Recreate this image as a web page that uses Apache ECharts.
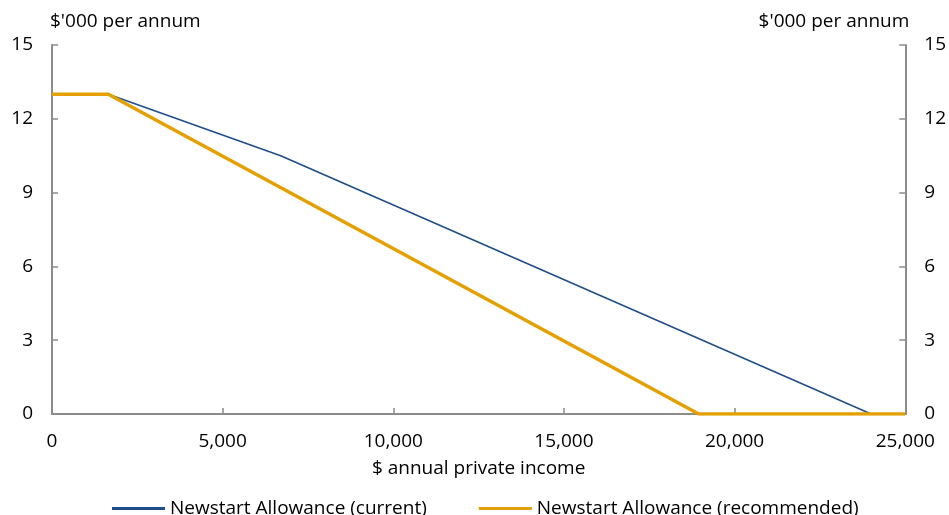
<!DOCTYPE html>
<html>
<head>
<meta charset="utf-8">
<script src="https://cdn.jsdelivr.net/npm/echarts@6/dist/echarts.min.js"></script>
<style>
  html, body { margin: 0; padding: 0; background: #fff; }
  #chart { width: 949px; height: 515px; }
</style>
</head>
<body>
<div id="chart"></div>
<script>
// Newstart Allowance payable ($'000 per annum) against annual private income ($)
const seriesNames = ['Newstart Allowance (current)', 'Newstart Allowance (recommended)'];
// breakpoints of the income test: [private income, allowance]
const currentAllowance = [[0, 13], [1650, 13], [6700, 10.5], [24000, 0], [25000, 0]];
const recommendedAllowance = [[0, 13], [1650, 13], [18950, 0], [25000, 0]];
const yTicks = [0, 3, 6, 9, 12, 15];
const xTicks = [0, 5000, 10000, 15000, 20000, 25000];

const font = 'Open Sans';
const fontSize = 19;
const axisGrey = '#8c8c8c';

const chart = echarts.init(document.getElementById('chart'), null, { renderer: 'canvas' });

const yAxisBase = {
  type: 'value',
  min: yTicks[0],
  max: yTicks[yTicks.length - 1],
  interval: 3,
  name: "$'000 per annum",
  nameLocation: 'end',
  nameGap: 14,
  axisLine: { show: true, lineStyle: { color: axisGrey, width: 2 } },
  axisTick: { show: true, inside: true, length: 6, lineStyle: { color: axisGrey, width: 1.5 } },
  splitLine: { show: false },
  axisLabel: { color: '#000', fontFamily: font, fontSize: fontSize, margin: 19 }
};

chart.setOption({
  animation: false,
  grid: { left: 52, right: 42, top: 45, bottom: 101 },
  xAxis: {
    type: 'value',
    min: xTicks[0],
    max: xTicks[xTicks.length - 1],
    interval: 5000,
    name: '$ annual private income',
    nameLocation: 'middle',
    nameGap: 45,
    nameTextStyle: { color: '#000', fontFamily: font, fontSize: fontSize },
    axisLine: { show: true, lineStyle: { color: axisGrey, width: 2 } },
    axisTick: { show: true, inside: true, length: 6, lineStyle: { color: axisGrey, width: 1.5 } },
    splitLine: { show: false },
    axisLabel: {
      color: '#000', fontFamily: font, fontSize: fontSize, margin: 18,
      formatter: v => v.toLocaleString('en-US')
    }
  },
  yAxis: [
    Object.assign({}, yAxisBase, {
      position: 'left',
      nameTextStyle: { color: '#000', fontFamily: font, fontSize: fontSize, align: 'left', padding: [0, 0, 0, -2] }
    }),
    Object.assign({}, yAxisBase, {
      position: 'right',
      nameTextStyle: { color: '#000', fontFamily: font, fontSize: fontSize, align: 'right', padding: [0, -4, 0, 0] }
    })
  ],
  legend: {
    bottom: -8,
    left: 107,
    padding: [5, 5, 5, 5],
    itemWidth: 53,
    itemHeight: 3,
    itemGap: 52,
    textStyle: { color: '#000', fontFamily: font, fontSize: fontSize },
    data: seriesNames.map(n => ({ name: n, icon: 'rect' }))
  },
  series: [
    {
      name: seriesNames[0],
      type: 'line',
      data: currentAllowance,
      symbol: 'none',
      color: '#1f4e8c',
      lineStyle: { color: '#1f4e8c', width: 1.6 },
      z: 2
    },
    {
      name: seriesNames[1],
      type: 'line',
      data: recommendedAllowance,
      symbol: 'none',
      color: '#e3a000',
      lineStyle: { color: '#e3a000', width: 3.5 },
      z: 3
    }
  ]
});
</script>
</body>
</html>
